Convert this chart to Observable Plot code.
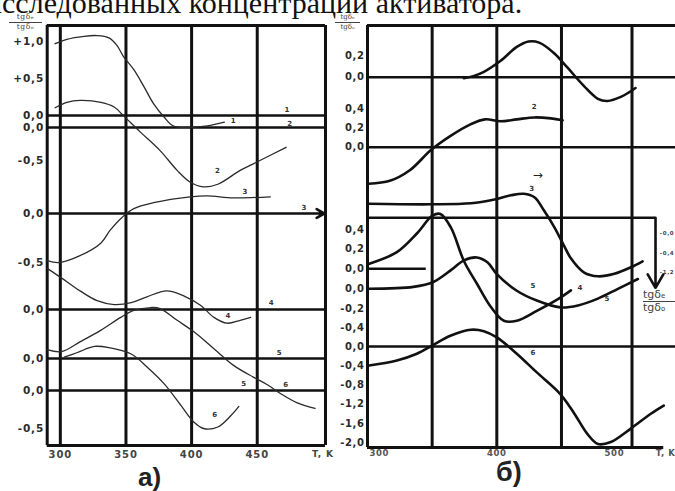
<!DOCTYPE html>
<html><head><meta charset="utf-8">
<script src="https://cdn.jsdelivr.net/npm/d3@7"></script>
<script src="https://cdn.jsdelivr.net/npm/@observablehq/plot@0.6"></script>
<style>
html,body{margin:0;padding:0;background:#fff;overflow:hidden;}
#page{position:relative;width:675px;height:491px;overflow:hidden;background:#fff;}
.abs{position:absolute;}
#title{font-family:"Liberation Serif","Times New Roman",serif;font-size:30px;line-height:20px;left:-14px;top:-7px;white-space:nowrap;color:#111;}
.frac{font-family:"DejaVu Serif",serif;text-align:center;color:#444;white-space:nowrap;}
.frac .num{border-bottom:1px solid #444;display:block;}
.frac .den{display:block;}
.panel{font-family:"Liberation Sans",Arial,sans-serif;font-weight:bold;color:#222;line-height:1;}
#pa,#pb{position:absolute;top:0;}
</style></head>
<body>
<div id="page">
  <div id="title" class="abs">исследованных концентраций активатора.</div>
  <div id="pa"></div>
  <div id="pb"></div>
  <div class="abs frac" style="left:9px;top:13px;width:33px;font-size:7.5px;line-height:8.5px;letter-spacing:0.6px;"><span class="num">tgδₑ</span><span class="den">tgδₒ</span></div>
  <div class="abs frac" style="left:335px;top:13px;width:25px;font-size:7px;line-height:8.5px;"><span class="num">tgδₑ</span><span class="den">tgδₒ</span></div>
  <div class="abs frac" style="left:643px;top:289px;width:32px;font-family:'DejaVu Sans',sans-serif;font-size:11px;line-height:12px;text-align:left;"><span class="num">tgδₑ</span><span class="den">tgδₒ</span></div>
  <div class="abs panel" style="left:138px;top:464px;font-size:26px;">а)</div>
  <div class="abs panel" style="left:496px;top:459px;font-size:27px;">б)</div>
</div>
<script>
// ---------- Panel а) : curves (T, K ; tgδe/tgδo) ----------
const a1 = [[296,0.97],[305,1.03],[318,1.07],[328,1.08],[337,1.05],[343,0.95],[348,0.80],[356,0.62],[364,0.38],[371,0.16],[379,-0.02],[386,-0.14],[399,-0.16],[412,-0.14],[425,-0.09]];
const a2 = [[296,0.30],[305,0.38],[315,0.41],[331,0.38],[341,0.31],[348,0.18],[361,-0.07],[376,-0.35],[389,-0.65],[399,-0.83],[409,-0.90],[420,-0.86],[437,-0.65],[449,-0.53],[472,-0.30]];
const a3 = [[290,-0.48],[299,-0.50],[315,-0.43],[331,-0.30],[338,-0.17],[347,-0.04],[356,0.05],[371,0.11],[399,0.17],[412,0.18],[432,0.16],[460,0.17]];
const a4 = [[290,0.42],[300,0.33],[315,0.19],[328,0.09],[341,0.05],[354,0.07],[366,0.13],[381,0.19],[394,0.14],[407,0.04],[417,-0.08],[427,-0.14],[437,-0.11],[445,-0.08]];
const a5 = [[290,0.09],[301,0.07],[315,0.17],[331,0.29],[346,0.42],[356,0.49],[369,0.52],[376,0.51],[389,0.39],[402,0.27],[417,0.10],[432,-0.07],[447,-0.19],[458,-0.27],[468,-0.36],[480,-0.45],[494,-0.51]];
const a6 = [[303,0.44],[313,0.50],[326,0.58],[338,0.56],[354,0.48],[366,0.31],[379,0.09],[392,-0.20],[402,-0.42],[409,-0.50],[420,-0.48],[430,-0.33],[436,-0.21]];
const aTickLabels = ["+1,0","+0,5","0,0","0,0","-0,5","0,0","-0,5","0,0","0,0","0,0","-0,5"];
const aTickCurve  = [1,1,1,2,2,3,3,4,5,6,6];
const aTickValue  = [1.0,0.5,0,0,-0.5,0,-0.5,0,0,0,-0.5];
const aXTicks = [300,350,400,450];
const aCurveLabel = [[432,1,-0.07],[420,2,-0.65],[441,3,0.22],[428,4,-0.06],[440,5,-0.26],[418,6,-0.32]];
const aLineLabel  = [[473,1,0.08],[475,2,0.06],[486,3,0.06],[461,4,0.07],[467,5,0.06],[472,6,0.08]];

// ---------- Panel б) ----------
const b1 = [[372,-0.01],[380,0.01],[389,0.05],[403,0.15],[417,0.28],[427,0.33],[436,0.32],[449,0.22],[460,0.09],[474,-0.08],[486,-0.20],[494,-0.22],[506,-0.18],[518,-0.10]];
const b2 = [[291,-0.38],[309,-0.35],[326,-0.24],[344,-0.03],[361,0.12],[378,0.24],[390,0.29],[403,0.27],[417,0.29],[432,0.31],[446,0.30],[456,0.28]];
const b3 = [[291,0],[344,-0.01],[378,0.01],[397,0.08],[412,0.17],[423,0.20],[432,0.13],[440,-0.13],[449,-0.47],[457,-0.83],[463,-1.09],[474,-1.37],[486,-1.45],[500,-1.40],[514,-1.27],[524,-1.15]];
const b4 = [[291,0.05],[315,0.17],[332,0.36],[345,0.54],[352,0.56],[361,0.42],[372,0.08],[383,-0.15],[395,-0.39],[406,-0.53],[417,-0.53],[434,-0.43],[452,-0.31],[463,-0.22]];
const b5 = [[291,0],[329,0.02],[346,0.07],[361,0.19],[372,0.29],[383,0.32],[392,0.27],[400,0.15],[417,-0.02],[434,-0.12],[454,-0.19],[469,-0.17],[486,-0.10],[503,0],[520,0.10]];
const b6 = [[290,-0.40],[315,-0.29],[332,-0.15],[345,0.02],[361,0.23],[378,0.35],[389,0.32],[400,0.19],[417,-0.15],[434,-0.54],[454,-0.99],[466,-1.40],[477,-1.82],[486,-2.03],[497,-1.99],[514,-1.71],[531,-1.40],[542,-1.23]];
const bTickLabels = ["0,2","0,0","0,4","0,2","0,0","0,4","0,2","0,0","0,0","-0,2","-0,4","0,0","-0,4","-0,8","-1,2","-1,6","-2,0"];
const bTickCurve  = [1,1,2,2,2,4,4,4,5,5,5,6,6,6,6,6,6];
const bTickValue  = [0.2,0,0.4,0.2,0,0.4,0.2,0,0,-0.2,-0.4,0,-0.4,-0.8,-1.2,-1.6,-2.0];
const bXTicks = [300,400,500];
const bGridT = [345,400,455,515];
const bCurveLabel = [[432,2,"2",0.42],[430,3,"3",0.31],[431,5,"5",0.03],[471,4,"4",-0.19],[494,5,"5",-0.10],[431,6,"6",-0.13]];
const bArrowLabel = [[435,3,"→",0.58]];
const bSideLabels = ["-0,0","-0,4","-1,2"];
const bSideValue  = [-0.59,-0.99,-1.37];

// ---------- layout (stack offsets, px from frame top; px per unit) ----------
const A = {base:{1:90,2:102,3:188,4:284,5:333,6:365}, k:{1:74,2:66,3:98,4:98,5:98,6:76}, h:420, T:[290,502]};
const B = {base:{1:51.7,2:121.7,3:178.3,4:243.3,5:263.3,6:321}, k:{1:108,2:96,3:50,4:98,5:98,6:48}, h:422, T:[290,552]};
const yA = (c,v)=>A.base[c]-A.k[c]*v;
const yB = (c,v)=>B.base[c]-B.k[c]*v;

const lab = {fontFamily:"DejaVu Sans, Verdana, sans-serif", fontWeight:"bold"};

// ----- panel а -----
const curvesA = [a1,a2,a3,a4,a5,a6].flatMap((arr,i)=>arr.map(([T,v])=>({T,y:yA(i+1,v),c:i+1})));
const ticksA = aTickLabels.map((t,i)=>({t, y:yA(aTickCurve[i],aTickValue[i])}));
const plotA = Plot.plot({
  width:340, height:491, marginLeft:46.7, marginRight:15, marginTop:25, marginBottom:46,
  x:{domain:A.T, axis:null}, y:{domain:[A.h,0], axis:null},
  style:{background:"transparent", overflow:"visible", letterSpacing:"0.9px"},
  marks:[
    Plot.ruleY([1,2,4,5,6].map(c=>yA(c,0)), {stroke:"#111", strokeWidth:2.6}),
    Plot.arrow([{x1:290,x2:501,y:yA(3,0)}], {x1:"x1",x2:"x2",y1:"y",y2:"y",stroke:"#111",strokeWidth:2.6,headLength:5,bend:0}),
    Plot.ruleX(aXTicks, {stroke:"#111", strokeWidth:3, y1:0, y2:A.h}),
    Plot.ruleX(A.T, {stroke:"#111", strokeWidth:3, y1:0, y2:A.h}),
    Plot.ruleY([0,A.h], {stroke:"#111", strokeWidth:3}),
    Plot.line(curvesA, {x:"T", y:"y", z:"c", curve:"catmull-rom", stroke:"#2b2b2b", strokeWidth:1.3}),
    Plot.text(ticksA, {x:A.T[0], y:"y", text:"t", textAnchor:"end", dx:-3, fontSize:10.5, ...lab, fill:"#2a2a2a"}),
    Plot.text(aXTicks, {x:d=>d, y:A.h, text:d=>String(d), dy:9, fontSize:10, ...lab, fill:"#444"}),
    Plot.text(["T, K"], {x:500, y:A.h, dy:9, fontSize:9, ...lab, fill:"#444"}),
    Plot.text(aCurveLabel, {x:d=>d[0], y:d=>yA(d[1],d[2]), text:d=>String(d[1]), fontSize:7, ...lab, fill:"#333"}),
    Plot.text(aLineLabel, {x:d=>d[0], y:d=>yA(d[1],d[2]), text:d=>String(d[1]), fontSize:7, ...lab, fill:"#333"})
  ]
});
document.getElementById("pa").style.left="0px";
document.getElementById("pa").appendChild(plotA);

// ----- panel б -----
const curvesB = [b1,b2,b3,b4,b5,b6].flatMap((arr,i)=>arr.map(([T,v])=>({T,y:yB(i+1,v),c:i+1})));
const ticksB = bTickLabels.map((t,i)=>({t, y:yB(bTickCurve[i],bTickValue[i])}));
const plotB = Plot.plot({
  width:345, height:491, marginLeft:37, marginRight:0, marginTop:25, marginBottom:44,
  x:{domain:B.T, axis:null}, y:{domain:[B.h,0], axis:null},
  style:{background:"transparent", overflow:"visible", letterSpacing:"0.6px"},
  marks:[
    Plot.ruleY([1,2,6].map(c=>yB(c,0)), {stroke:"#111", strokeWidth:2.6}),
    Plot.ruleY([yB(4,0)], {x1:B.T[0], x2:340, stroke:"#111", strokeWidth:2.4}),
    Plot.ruleY([yB(3,-0.28)], {x1:B.T[0], x2:535, stroke:"#111", strokeWidth:2.6}),
    Plot.arrow([{x:535,y1:yB(3,-0.28),y2:yB(3,-1.68)}], {x1:"x",x2:"x",y1:"y1",y2:"y2",stroke:"#111",strokeWidth:2.6,headLength:9,bend:0}),
    Plot.ruleX(bGridT, {stroke:"#111", strokeWidth:3, y1:0, y2:B.h}),
    Plot.ruleX([B.T[0]], {stroke:"#111", strokeWidth:3, y1:0, y2:B.h}),
    Plot.ruleY([0], {stroke:"#111", strokeWidth:3}),
    Plot.ruleY([B.h], {x1:B.T[0], x2:542, stroke:"#111", strokeWidth:3}),
    Plot.line(curvesB, {x:"T", y:"y", z:"c", curve:"catmull-rom", stroke:"#111", strokeWidth:2.6}),
    Plot.text(ticksB, {x:B.T[0], y:"y", text:"t", textAnchor:"end", dx:-3, fontSize:10, ...lab, fill:"#2a2a2a"}),
    Plot.text(bXTicks, {x:d=>d, y:B.h, text:d=>String(d), dy:6, fontSize:8.5, ...lab, fill:"#555"}),
    Plot.text(["T, K"], {x:B.T[1], y:B.h, dy:6, textAnchor:"end", fontSize:8.5, ...lab, fill:"#555"}),
    Plot.text(bCurveLabel, {x:d=>d[0], y:d=>yB(d[1],d[3]), text:d=>d[2], fontSize:7, ...lab, fill:"#333"}),
    Plot.text(bArrowLabel, {x:d=>d[0], y:d=>yB(d[1],d[3]), text:d=>d[2], fontSize:12, fontFamily:"DejaVu Sans", fill:"#222"}),
    Plot.text(bSideLabels.map((t,i)=>({t,y:yB(3,bSideValue[i])})), {x:537, y:"y", text:"t", textAnchor:"start", dx:2, fontSize:5.5, ...lab, letterSpacing:0, fill:"#444"})
  ]
});
document.getElementById("pb").style.left="330px";
document.getElementById("pb").appendChild(plotB);
</script>
</body></html>
